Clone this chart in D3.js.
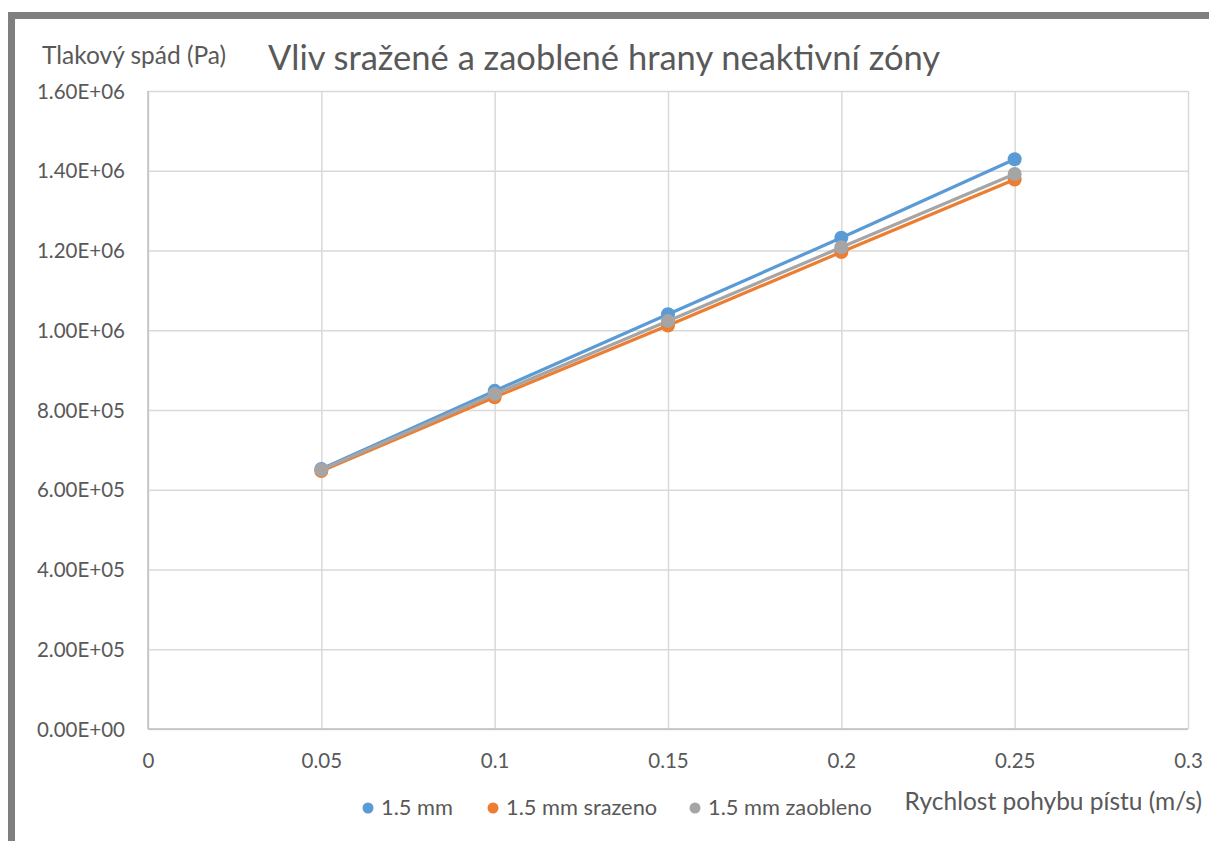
<!DOCTYPE html>
<html>
<head>
<meta charset="utf-8">
<script src="https://cdn.jsdelivr.net/npm/d3@7"></script>
<style>
  html, body { margin: 0; padding: 0; background: #fff; }
  svg { display: block; }
  text { font-family: Lato, "Noto Sans", sans-serif; fill: #595959; }
</style>
</head>
<body>
<svg id="chart" width="1209" height="841"></svg>
<script>
// Piston speed (m/s) and pressure drop (Pa) for each edge variant
const speeds = [0.05, 0.1, 0.15, 0.2, 0.25];
const seriesNames = ["1.5 mm", "1.5 mm srazeno", "1.5 mm zaobleno"];
const plain   = [652000, 848000, 1040000, 1232000, 1429000];
const chamfer = [647000, 832000, 1012000, 1196000, 1378000];
const rounded = [650000, 840000, 1023000, 1208000, 1392000];
const seriesColors = ["#5b9bd5", "#ed7d31", "#a5a5a5"];
const xTicks = [0, 0.05, 0.1, 0.15, 0.2, 0.25, 0.3];
const yTicks = [0, 200000, 400000, 600000, 800000, 1000000, 1200000, 1400000, 1600000];

const titleText = "Vliv sražené a zaoblené hrany neaktivní zóny";
const yTitle = "Tlakový spád (Pa)";
const xTitle = "Rychlost pohybu pístu (m/s)";

const svg = d3.select("#chart");

// outer frame
svg.append("rect")
  .attr("x", 11.5).attr("y", 15.5)
  .attr("width", 1400).attr("height", 1000)
  .attr("fill", "#fff")
  .attr("stroke", "#7f7f7f").attr("stroke-width", 7);

const plot = { left: 148, right: 1188, top: 91, bottom: 729 };

const x = d3.scaleLinear().domain([0, 0.3]).range([plot.left, plot.right]);
const y = d3.scaleLinear().domain([0, 1600000]).range([plot.bottom, plot.top]);

const sci = v => {
  if (v === 0) return "0.00E+00";
  const e = Math.floor(Math.log10(v));
  const m = v / Math.pow(10, e);
  return m.toFixed(2) + "E+" + String(e).padStart(2, "0");
};

// gridlines
svg.append("g")
  .attr("transform", `translate(0,${plot.bottom})`)
  .call(d3.axisBottom(x).tickValues(xTicks).tickSize(-(plot.bottom - plot.top)).tickFormat(""))
  .call(g => g.select(".domain").remove())
  .call(g => g.selectAll("line").attr("stroke", "#d9d9d9").attr("stroke-width", 1.5));

svg.append("g")
  .attr("transform", `translate(${plot.left},0)`)
  .call(d3.axisLeft(y).tickValues(yTicks).tickSize(-(plot.right - plot.left)).tickFormat(""))
  .call(g => g.select(".domain").remove())
  .call(g => g.selectAll("line").attr("stroke", "#d9d9d9").attr("stroke-width", 1.5));

// axis lines
svg.append("line").attr("x1", plot.left).attr("x2", plot.right)
  .attr("y1", plot.bottom).attr("y2", plot.bottom)
  .attr("stroke", "#bfbfbf").attr("stroke-width", 1.5);
svg.append("line").attr("x1", plot.left).attr("x2", plot.left)
  .attr("y1", plot.top).attr("y2", plot.bottom)
  .attr("stroke", "#bfbfbf").attr("stroke-width", 1.5);

// tick labels
const xAxis = svg.append("g")
  .attr("transform", `translate(0,${plot.bottom})`)
  .call(d3.axisBottom(x).tickValues(xTicks).tickSize(0).tickPadding(0).tickFormat(d => String(d)));
xAxis.select(".domain").remove();
xAxis.selectAll("text").attr("dy", 0).attr("y", 39)
  .style("font-size", "20.5px").style("font-family", "Lato, sans-serif").attr("fill", "#595959");

const yAxis = svg.append("g")
  .attr("transform", `translate(${plot.left},0)`)
  .call(d3.axisLeft(y).tickValues(yTicks).tickSize(0).tickPadding(0).tickFormat(sci));
yAxis.select(".domain").remove();
yAxis.selectAll("text").attr("x", -23).attr("dy", "0.35em")
  .style("font-size", "20.5px").style("font-family", "Lato, sans-serif").attr("fill", "#595959");

// series
const series = [plain, chamfer, rounded].map((vals, i) => ({
  name: seriesNames[i], color: seriesColors[i],
  points: speeds.map((s, j) => ({ x: s, y: vals[j] }))
}));

const line = d3.line().x(d => x(d.x)).y(d => y(d.y));

series.forEach(s => {
  const g = svg.append("g");
  g.append("path").datum(s.points)
    .attr("d", line).attr("fill", "none")
    .attr("stroke", s.color).attr("stroke-width", 3.2)
    .attr("stroke-linejoin", "round").attr("stroke-linecap", "round");
  g.selectAll("circle").data(s.points).join("circle")
    .attr("cx", d => x(d.x)).attr("cy", d => y(d.y))
    .attr("r", 7).attr("fill", s.color);
});

// titles
svg.append("text").attr("x", 268).attr("y", 70)
  .style("font-size", "34.5px").text(titleText);
svg.append("text").attr("x", 42).attr("y", 64)
  .style("font-size", "24.5px").text(yTitle);
svg.append("text").attr("x", 1202).attr("y", 810)
  .attr("text-anchor", "end")
  .style("font-size", "24.5px").text(xTitle);

// legend
const legendX = [368, 493, 695];
series.forEach((s, i) => {
  svg.append("circle").attr("cx", legendX[i]).attr("cy", 808)
    .attr("r", 5.5).attr("fill", s.color);
  svg.append("text").attr("x", legendX[i] + 13).attr("y", 815)
    .style("font-size", "21.8px").text(s.name);
});
</script>
</body>
</html>
